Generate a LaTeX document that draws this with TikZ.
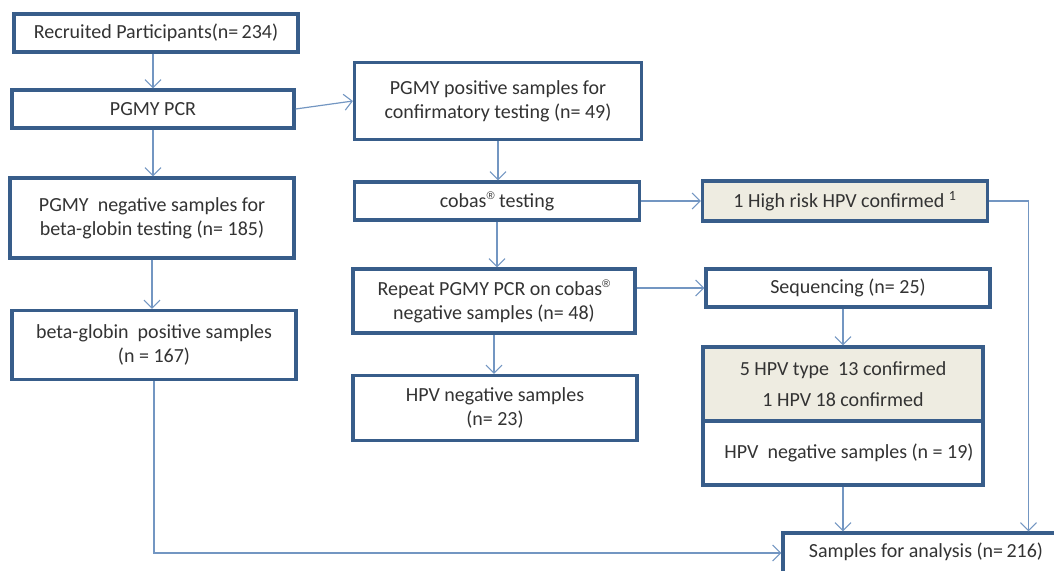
\documentclass[tikz,border=0pt]{standalone}
\usepackage{fontspec}
\setmainfont{Carlito}
\newfontfamily\regfont{Liberation Sans}
\usetikzlibrary{arrows.meta}
\definecolor{boxc}{HTML}{385D8A}
\definecolor{linec}{HTML}{7396C2}
\definecolor{beige}{HTML}{EEECE1}
\definecolor{txt}{HTML}{333333}
\newcommand{\regmark}{\raisebox{0.4em}{\regfont\fontsize{11}{11}\selectfont ®}}
\begin{document}
\begin{tikzpicture}[x=1pt,y=-1pt,
  font=\fontsize{20}{24}\selectfont,
  bx/.style={draw=boxc, line width=3.2pt, fill=white, text=txt, align=center, inner sep=0pt},
  arr/.style={draw=linec, line width=1.2pt, -{Straight Barb[length=8pt,width=16pt,line width=1.1pt]}}]
\useasboundingbox (0,0) rectangle (1054,570);
\clip (0,0) rectangle (1054,570);
\node[bx, minimum width=284pt, minimum height=38pt] (rec) at (156,33) {Recruited Participants(n=\,234)};
\node[bx, minimum width=282pt, minimum height=38pt] (pcr) at (153,109) {PGMY PCR};
\node[bx, minimum width=284pt, minimum height=80pt] (neg) at (152,218) {PGMY \ negative samples for\\beta-globin testing (n= 185)};
\node[bx, minimum width=284pt, minimum height=69pt] (beta) at (154,345) {beta-globin \ positive samples\\(n = 167)};
\node[bx, minimum width=287pt, minimum height=77pt] (pos) at (498,101) {PGMY positive samples for\\confirmatory testing (n= 49)};
\node[bx, minimum width=285pt, minimum height=38pt] (cobas) at (497,201) {cobas\regmark\ testing};
\node[bx, minimum width=282pt, minimum height=64pt] (rep) at (494,301) {Repeat PGMY PCR on cobas\regmark\\negative samples (n= 48)};
\node[bx, minimum width=284pt, minimum height=65pt] (hn) at (495,408) {HPV negative samples\\(n= 23)};
\node[bx, fill=beige, minimum width=285pt, minimum height=40pt] (hr) at (845,201) {1 High risk HPV confirmed \textsuperscript{1}};
\node[bx, minimum width=284pt, minimum height=38pt] (seq) at (848,288) {Sequencing (n= 25)};
\node[bx, fill=beige, minimum width=280pt, minimum height=74pt, font=\fontsize{20}{31}\selectfont] (five) at (843,384) {5 HPV type \ 13 confirmed\\1 HPV 18 confirmed};
\node[bx, minimum width=280pt, minimum height=64pt] (n19) at (843,453) {\hspace*{12pt}HPV \ negative samples (n = 19)};
\node[bx, minimum width=297pt, minimum height=40pt] (sa) at (931.5,553) {};
\node[text=txt, inner sep=0pt, anchor=center] (saT) at (926,552) {Samples for analysis (n=\,216)};
% connectors
\draw[arr] (rec.south -| pcr.north) -- (pcr.north);
\draw[arr] (pcr.east) -- (pos.west);
\draw[arr] (pcr.south) -- (pcr.south |- neg.north);
\draw[arr] (neg.south) -- (neg.south |- beta.north);
\draw[arr] (beta.south) |- (sa.west);
\draw[arr] (pos.south) -- (pos.south |- cobas.north);
\draw[arr] (cobas.east) -- (hr.west);
\draw[arr] (cobas.south) -- (cobas.south |- rep.north);
\draw[arr] (rep.south) -- (rep.south |- hn.north);
\draw[arr] (rep.east |- seq.west) -- (seq.west);
\draw[arr] (seq.south -| five.north) -- (five.north);
\draw[arr] (n19.south) -- (n19.south |- sa.north);
\draw[arr] (hr.east) -| ([xshift=97pt]sa.north);
\end{tikzpicture}
\end{document}
